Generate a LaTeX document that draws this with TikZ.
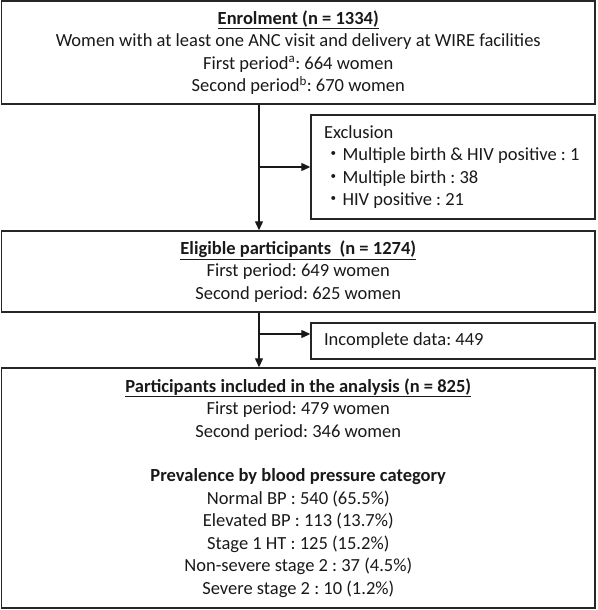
\documentclass[tikz,border=0pt]{standalone}
\usepackage{fontspec}
\setmainfont{Carlito}
\newfontfamily\cjk{Noto Sans CJK JP}
\usetikzlibrary{arrows.meta}
\newcommand{\bul}{{\cjk ・}}
\begin{document}
\frenchspacing
\begin{tikzpicture}[x=1pt,y=1pt,
  box/.style={draw=black!85, line width=1.4pt, inner sep=0pt, font=\fontsize{18.5}{22.5}\selectfont\frenchspacing, text=black!90},
  sidebox/.style={box, text width=278pt, inner xsep=3pt, align=flush left, execute at begin node={\leftskip=10pt}},
  arr/.style={line width=1.2pt, draw=black!90, -{Triangle[width=8pt,length=9pt]}}]
\useasboundingbox (0,0) rectangle (597,-610);
\node[box, minimum width=593.5pt, minimum height=103pt, align=center] (enrol) at (298.25,-52.5)
  {\underline{\textbf{Enrolment (n = 1334)}}\\
   Women with at least one ANC visit and delivery at WIRE facilities\\
   First period\textsuperscript{a}: 664 women\\
   Second period\textsuperscript{b}: 670 women};
\node[sidebox, minimum height=104pt] (excl) at (453,-167)
  {Exclusion\\
   \bul Multiple birth \& HIV positive : 1\\
   \bul Multiple birth : 38\\
   \bul HIV positive : 21};
\node[box, minimum width=593.5pt, minimum height=81pt, align=center] (elig) at (298.25,-271.5)
  {\underline{\textbf{Eligible participants\ \ (n = 1274)}}\\
   First period: 649 women\\
   Second period: 625 women};
\node[sidebox, minimum height=36pt] (inc) at (453,-341)
  {Incomplete data: 449};
\node[box, minimum width=593.5pt, minimum height=240pt, align=center] (anal) at (298.25,-488)
  {\underline{\textbf{Participants included in the analysis (n = 825)}}\\
   First period: 479 women\\
   Second period: 346 women\\[22pt]
   \textbf{Prevalence by blood pressure category}\\
   Normal BP : 540 (65.5\%)\\
   Elevated BP : 113 (13.7\%)\\
   Stage 1 HT : 125 (15.2\%)\\
   Non-severe stage 2 : 37 (4.5\%)\\
   Severe stage 2 : 10 (1.2\%)};
\coordinate (s1) at (259,-167);
\coordinate (s2) at (259,-334);
\draw[arr] (enrol.south -| s1) -- (elig.north -| s1);
\draw[arr] (s1) -- (excl.west |- s1);
\draw[arr] (elig.south -| s2) -- (anal.north -| s2);
\draw[arr] (s2) -- (inc.west |- s2);
\end{tikzpicture}
\end{document}
